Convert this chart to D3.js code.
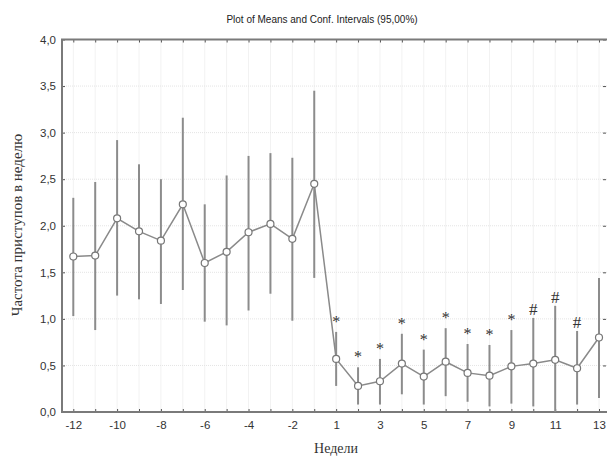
<!DOCTYPE html>
<html>
<head>
<meta charset="utf-8">
<title>Plot of Means and Conf. Intervals</title>
<script src="https://d3js.org/d3.v7.min.js"></script>
<style>
    body { margin: 0; background: #fff; }
    svg { display: block; }
</style>
</head>
<body>
<script>
    // weeks before (-12..-1) and after (1..13)
    const weeks = ["-12", "-11", "-10", "-9", "-8", "-7", "-6", "-5", "-4", "-3", "-2", "-1",
        "1", "2", "3", "4", "5", "6", "7", "8", "9", "10", "11", "12", "13"];
    const means = [1.67, 1.68, 2.08, 1.94, 1.84, 2.23, 1.60, 1.72, 1.93, 2.02, 1.86, 2.45,
        0.57, 0.28, 0.33, 0.52, 0.38, 0.54, 0.42, 0.39, 0.49, 0.52, 0.56, 0.47, 0.80];
    const upper = [2.30, 2.47, 2.92, 2.66, 2.50, 3.16, 2.23, 2.54, 2.75, 2.78, 2.73, 3.45,
        0.86, 0.48, 0.57, 0.84, 0.67, 0.90, 0.73, 0.72, 0.88, 1.01, 1.14, 0.87, 1.44];
    const lower = [1.03, 0.88, 1.25, 1.21, 1.16, 1.31, 0.97, 0.93, 1.09, 1.27, 0.98, 1.44,
        0.28, 0.08, 0.08, 0.19, 0.08, 0.17, 0.11, 0.06, 0.09, 0.06, 0.00, 0.08, 0.15];
    const marks = ["", "", "", "", "", "", "", "", "", "", "", "",
        "*", "*", "*", "*", "*", "*", "*", "*", "*", "#", "#", "#", ""];
    const xLabels = ["-12", "-10", "-8", "-6", "-4", "-2", "1", "3", "5", "7", "9", "11", "13"];
    const yTicks = [0, 0.5, 1, 1.5, 2, 2.5, 3, 3.5, 4];

    const width = 607, height = 458;
    const mLeft = 62, mRight = 607, mTop = 39.5, mBottom = 412;

    const svg = d3.select("body").append("svg")
        .attr("width", width)
        .attr("height", height);

    const x = d3.scalePoint().domain(weeks).range([73.3, 599]);
    const y = d3.scaleLinear().domain([0, 4]).range([mBottom, mTop]);
    const fmt = d => d3.format(".1f")(d).replace(".", ",");

    // grid
    svg.append("g").selectAll("line").data(weeks).join("line")
        .attr("x1", d => x(d)).attr("x2", d => x(d))
        .attr("y1", mTop).attr("y2", mBottom)
        .attr("stroke", "#e4e4e4").attr("stroke-dasharray", "1,1");
    svg.append("g").selectAll("line").data(yTicks.slice(1, -1)).join("line")
        .attr("x1", mLeft).attr("x2", mRight)
        .attr("y1", d => y(d)).attr("y2", d => y(d))
        .attr("stroke", "#e4e4e4").attr("stroke-dasharray", "1,1");

    // axes (ticks pointing inward)
    const axisColor = "#7a7a7a";
    const bottomAxis = svg.append("g").attr("transform", `translate(0,${mBottom})`)
        .call(d3.axisBottom(x).tickSizeInner(-3).tickSizeOuter(0).tickFormat(d => xLabels.includes(d) ? d : ""));
    const topAxis = svg.append("g").attr("transform", `translate(0,${mTop})`)
        .call(d3.axisTop(x).tickSizeInner(-3).tickSizeOuter(0).tickFormat(""));
    const leftAxis = svg.append("g").attr("transform", `translate(${mLeft},0)`)
        .call(d3.axisLeft(y).tickValues(yTicks).tickSizeInner(-3).tickSizeOuter(0).tickFormat(fmt));
    const rightAxis = svg.append("g").attr("transform", `translate(${mRight - 1},0)`)
        .call(d3.axisRight(y).tickValues(yTicks).tickSizeInner(-3).tickSizeOuter(0).tickFormat(""));

    [bottomAxis, topAxis, leftAxis, rightAxis].forEach(g => {
        g.select(".domain").remove();
        g.selectAll(".tick line").attr("stroke", "#555");
        g.selectAll("text").attr("fill", "#333")
            .style("font-family", "'Liberation Sans', Arial, sans-serif")
            .style("font-size", "11.5px");
    });
    bottomAxis.selectAll("text").attr("y", 9).attr("dy", "0.71em");
    leftAxis.selectAll("text").attr("x", -6);

    // frame
    svg.append("rect")
        .attr("x", mLeft).attr("y", mTop)
        .attr("width", mRight - mLeft + 2).attr("height", mBottom - mTop)
        .attr("fill", "none").attr("stroke", axisColor).attr("stroke-width", 2);

    // confidence intervals
    svg.append("g").selectAll("line").data(weeks).join("line")
        .attr("x1", d => x(d)).attr("x2", d => x(d))
        .attr("y1", (d, i) => y(upper[i])).attr("y2", (d, i) => y(lower[i]))
        .attr("stroke", "#8c8c8c").attr("stroke-width", 2);

    // means line
    svg.append("path")
        .datum(weeks)
        .attr("fill", "none").attr("stroke", "#8a8a8a").attr("stroke-width", 1.5)
        .attr("d", d3.line().x(d => x(d)).y((d, i) => y(means[i])));

    svg.append("g").selectAll("circle").data(weeks).join("circle")
        .attr("cx", d => x(d)).attr("cy", (d, i) => y(means[i]))
        .attr("r", 3.5)
        .attr("fill", "#fff").attr("stroke", "#777").attr("stroke-width", 1.2);

    // significance marks
    svg.append("g").selectAll("text").data(weeks).join("text")
        .attr("x", d => x(d))
        .attr("y", (d, i) => y(upper[i]) - (marks[i] === "#" ? 3 : 5))
        .attr("text-anchor", "middle")
        .attr("fill", "#333")
        .style("font-family", "'Liberation Serif', 'Times New Roman', serif")
        .style("font-size", (d, i) => marks[i] === "#" ? "17px" : "16px")
        .text((d, i) => marks[i]);

    // titles
    svg.append("text")
        .attr("x", 322).attr("y", 23)
        .attr("text-anchor", "middle").attr("fill", "#222")
        .style("font-family", "'Liberation Sans', Arial, sans-serif")
        .style("font-size", "10px")
        .text("Plot of Means and Conf. Intervals (95,00%)");

    svg.append("text")
        .attr("x", 336).attr("y", 453)
        .attr("text-anchor", "middle").attr("fill", "#333")
        .style("font-family", "'Liberation Serif', 'Times New Roman', serif")
        .style("font-size", "14px")
        .text("Недели");

    svg.append("text")
        .attr("transform", "translate(22,225) rotate(-90)")
        .attr("text-anchor", "middle").attr("fill", "#333")
        .style("font-family", "'Liberation Serif', 'Times New Roman', serif")
        .style("font-size", "15px")
        .text("Частота приступов в неделю");
</script>
</body>
</html>
